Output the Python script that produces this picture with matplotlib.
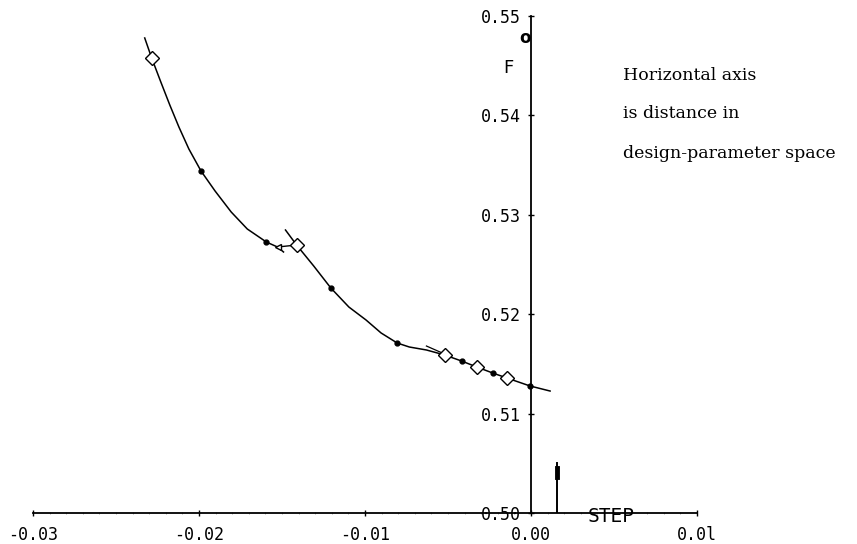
import numpy as np
import matplotlib.pyplot as plt

# first search leg, ends at the tangent near STEP=-0.015
leg1_step = [-0.02327, -0.02285, -0.02230, -0.02176, -0.02121, -0.02061, -0.01988,
             -0.01903, -0.01806, -0.01709, -0.01594, -0.01527, -0.01491]
leg1_f = [0.54779, 0.54577, 0.54336, 0.54105, 0.53883, 0.53662, 0.53441,
          0.53239, 0.53028, 0.52857, 0.52726, 0.52676, 0.52626]

# second leg, runs through the origin
leg2_step = [-0.01479, -0.01412, -0.01309, -0.01206, -0.01097, -0.00994, -0.00903,
             -0.00806, -0.00733, -0.00630, -0.00521, -0.00418, -0.00327, -0.00230,
             -0.00145, -0.00006, 0.00115]
leg2_f = [0.52847, 0.52696, 0.52485, 0.52264, 0.52072, 0.51942, 0.51811,
          0.51710, 0.51670, 0.51640, 0.51590, 0.51529, 0.51469, 0.51408,
          0.51358, 0.51278, 0.51227]

# jump between the legs and a tangent segment
jump_step = [-0.01527, -0.01412]
jump_f = [0.52676, 0.52696]
tan_step = [-0.00630, -0.00479]
tan_f = [0.51680, 0.51569]

# evaluated points
diam_step = [-0.02285, -0.01412, -0.00521, -0.00327, -0.00145]
diam_f = [0.54577, 0.52696, 0.51590, 0.51469, 0.51358]
dot_step = [-0.01988, -0.01594, -0.01206, -0.00806, -0.00006, -0.00418, -0.00230]
dot_f = [0.53441, 0.52726, 0.52264, 0.51710, 0.51278, 0.51529, 0.51408]

# step marker on the axis
bar_step = 0.00157
bar_top = 0.50505
bar_thick = (0.50362, 0.50453)

xticks = [-0.03, -0.02, -0.01, 0.00, 0.01]
xlabels = ['-0.03', '-0.02', '-0.01', '0.00', '0.0l']
yticks = [0.50, 0.51, 0.52, 0.53, 0.54, 0.55]
ylabels = ['0.50', '0.51', '0.52', '0.53', '0.54', '0.55']

fig = plt.figure(figsize=(8.57, 5.44), dpi=100)
ax = fig.add_axes([33/857, 31/544, 664/857, 497/544])
ax.set_xlim(-0.03, 0.01)
ax.set_ylim(0.50, 0.55)
ax.patch.set_alpha(0)

for s in ['top', 'right']:
    ax.spines[s].set_visible(False)
ax.spines['left'].set_position(('data', 0))
ax.spines['left'].set_linewidth(1.3)
ax.spines['bottom'].set_linewidth(1.3)

mono = 'DejaVu Sans Mono'
ax.set_xticks(xticks)
ax.set_xticklabels(xlabels, family=mono, fontsize=12)
ax.set_yticks(yticks)
ax.set_yticklabels(ylabels, family=mono, fontsize=12)
ax.set_xticks(np.arange(-0.03, 0.0101, 0.001), minor=True)
ax.tick_params(axis='x', which='major', direction='inout', length=5, width=1, pad=7)
ax.tick_params(axis='x', which='minor', direction='inout', length=1, width=0.4, color='0.4')
ax.tick_params(axis='y', which='major', direction='inout', length=5, width=1, pad=4.5)

lc = 'black'
ax.plot(leg1_step, leg1_f, color=lc, lw=1.1, clip_on=False)
ax.plot(leg2_step, leg2_f, color=lc, lw=1.1, clip_on=False)
ax.plot(jump_step, jump_f, color=lc, lw=1.0)
ax.plot(jump_step[0], jump_f[0], marker='<', ms=4, color=lc, mfc='white')
ax.plot(tan_step, tan_f, color=lc, lw=0.9)
ax.plot(diam_step, diam_f, 'D', ms=7.5, mfc='white', mec=lc, mew=1.0, ls='none')
ax.plot(dot_step, dot_f, 'o', ms=3.5, color=lc, ls='none')

ax.plot([bar_step, bar_step], [0.50, bar_top], color=lc, lw=1.4)
ax.plot([bar_step, bar_step], bar_thick, color=lc, lw=3.5)

ax.text(0.00485, 0.4996, 'STEP', family=mono, fontsize=14, ha='center', va='center')
fig.text(508/857, 1 - 68/544, 'F', fontsize=13, ha='center', va='center')
fig.text(525/857, 1 - 38/544, 'o', fontsize=12, weight='bold', ha='center', va='center')

note = ['Horizontal axis', 'is distance in', 'design-parameter space']
for i, line in enumerate(note):
    fig.text(623/857, 1 - (75 + 39*i)/544, line, family='DejaVu Serif',
             fontsize=12.5, ha='left', va='center')

fig.savefig('out.png', dpi=100)
